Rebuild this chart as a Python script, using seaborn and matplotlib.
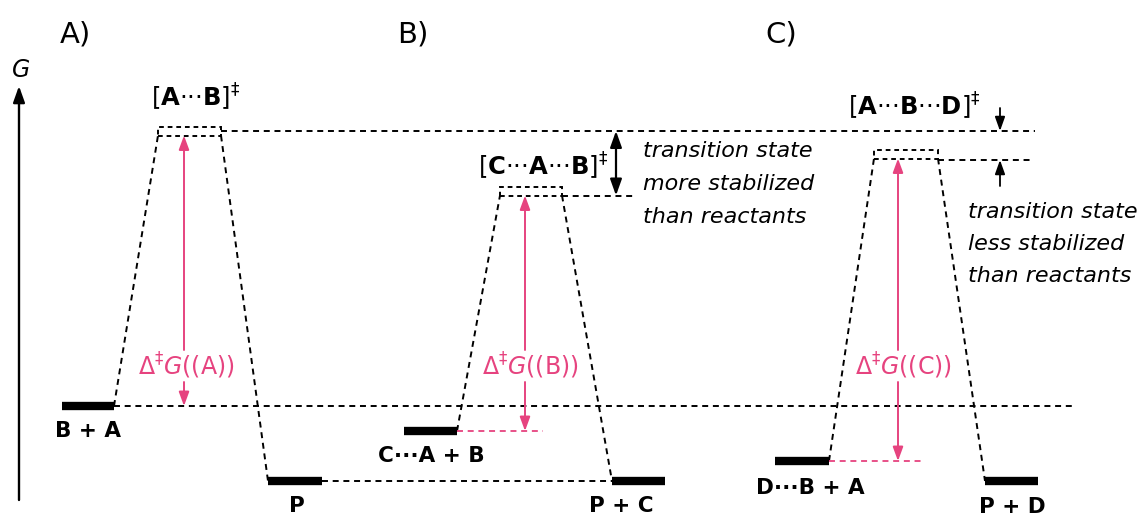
import matplotlib
matplotlib.use("Agg")
import matplotlib.pyplot as plt
from matplotlib.patches import Rectangle
import seaborn as sns
import pandas as pd

sns.set_theme(style="white")
plt.rcParams["font.family"] = ["DejaVu Sans"]
plt.rcParams["mathtext.fontset"] = "dejavusans"
plt.rcParams["lines.scale_dashes"] = False
plt.rcParams["text.color"] = "black"

# ---------------- data ----------------
panel_labels = ["A)", "B)", "C)"]
reactant_labels = ["B + A", "C···A + B", "D···B + A"]
ts_labels = [r"[$\mathbf{A}$···$\mathbf{B}$]$^{\ddagger}$",
             r"[$\mathbf{C}$···$\mathbf{A}$···$\mathbf{B}$]$^{\ddagger}$",
             r"[$\mathbf{A}$···$\mathbf{B}$···$\mathbf{D}$]$^{\ddagger}$"]
product_labels = ["P", "P + C", "P + D"]
barrier_labels = [r"$\Delta^{\ddagger}\mathit{G}$((A))",
                  r"$\Delta^{\ddagger}\mathit{G}$((B))",
                  r"$\Delta^{\ddagger}\mathit{G}$((C))"]
G_reactant = [75, 50, 20]
G_ts = [350, 290, 327]
G_product = [0, 0, 0]
note_B = ["transition state", "more stabilized", "than reactants"]
note_C = ["transition state", "less stabilized", "than reactants"]

# ---------------- layout ----------------
react_x = [(62, 114), (404, 457), (775, 829)]
ts_x = [(158, 221), (500, 562), (874, 938)]
prod_x = [(268, 322), (612, 665), (985, 1038)]
arrow_x = [184, 525, 898]
label_cx = [186, 530, 903]
panel_x = [60, 397, 765]
box_h = 4.5
PINK = "#E6437F"
DASH = (0, (4.3, 3.4))

fig = plt.figure(figsize=(11.45, 5.16), dpi=100)
ax = fig.add_axes([0, 0, 1, 1])
ax.set_xlim(0, 1145)
ax.set_ylim(481 - 516, 481)
ax.axis("off")

# thick energy-level bars via seaborn
rows = []
for i in range(3):
    for xx in react_x[i]:
        rows.append(dict(x=xx, G=G_reactant[i], seg=f"r{i}"))
    for xx in prod_x[i]:
        rows.append(dict(x=xx, G=G_product[i], seg=f"p{i}"))
bars = pd.DataFrame(rows)
sns.lineplot(data=bars, x="x", y="G", units="seg", estimator=None, sort=False,
             color="black", lw=6, solid_capstyle="butt", ax=ax, legend=False)

# connectors and TS boxes
for i in range(3):
    gt = G_ts[i]
    ax.plot([react_x[i][1], ts_x[i][0]], [G_reactant[i], gt - box_h],
            color="black", lw=1.4, ls=DASH)
    ax.plot([ts_x[i][1], prod_x[i][0]], [gt - box_h, G_product[i]],
            color="black", lw=1.4, ls=DASH)
    ax.add_patch(Rectangle((ts_x[i][0], gt - box_h), ts_x[i][1] - ts_x[i][0], 2 * box_h,
                           fill=False, ec="black", lw=1.4, ls=(0, (3.4, 2.8))))

# reference dashed lines
ax.plot([ts_x[0][1], 1035], [G_ts[0], G_ts[0]], color="black", lw=1.4, ls=DASH)
ax.plot([react_x[0][1], 1072], [G_reactant[0], G_reactant[0]], color="black", lw=1.4, ls=DASH)
ax.plot([prod_x[0][1], prod_x[1][0]], [G_product[0], G_product[0]], color="black", lw=1.4, ls=DASH)
ax.plot([ts_x[1][1], 633], [G_ts[1] - box_h, G_ts[1] - box_h], color="black", lw=1.4, ls=DASH)
ax.plot([ts_x[2][1], 1030], [G_ts[2] - box_h - 1.5, G_ts[2] - box_h - 1.5], color="black", lw=1.4, ls=DASH)

# pink reactant reference lines
ax.plot([react_x[1][1], 543], [G_reactant[1]] * 2, color=PINK, lw=1.3, ls=DASH)
ax.plot([react_x[2][1], 925], [G_reactant[2]] * 2, color=PINK, lw=1.3, ls=DASH)

# pink barrier arrows
ahead = "-|>,head_length=0.6,head_width=0.22"
for i in range(3):
    top = G_ts[i] - box_h
    ax.annotate("", xy=(arrow_x[i], top), xytext=(arrow_x[i], 131),
                arrowprops=dict(arrowstyle=ahead, color=PINK, lw=1.4,
                                mutation_scale=14, shrinkA=0, shrinkB=0))
    ax.annotate("", xy=(arrow_x[i], G_reactant[i]), xytext=(arrow_x[i], 99),
                arrowprops=dict(arrowstyle=ahead, color=PINK, lw=1.4,
                                mutation_scale=14, shrinkA=0, shrinkB=0))
    ax.text(label_cx[i], 481 - 375, barrier_labels[i], color=PINK, fontsize=17,
            ha="center", va="baseline")

# black stabilisation arrows
bhead = "<|-|>,head_length=0.7,head_width=0.25"
ax.annotate("", xy=(616, G_ts[0]), xytext=(616, G_ts[1] - box_h),
            arrowprops=dict(arrowstyle=bhead, color="black", lw=1.6,
                            mutation_scale=14, shrinkA=0, shrinkB=0))
shead = "-|>,head_length=0.7,head_width=0.25"
ax.annotate("", xy=(1000, G_ts[0]), xytext=(1000, 373),
            arrowprops=dict(arrowstyle=shead, color="black", lw=1.3,
                            mutation_scale=12, shrinkA=0, shrinkB=0))
ax.annotate("", xy=(1000, G_ts[2] - box_h - 1.5), xytext=(1000, 295),
            arrowprops=dict(arrowstyle=shead, color="black", lw=1.3,
                            mutation_scale=12, shrinkA=0, shrinkB=0))

# G axis
ax.annotate("", xy=(19, 481 - 86), xytext=(19, 481 - 500),
            arrowprops=dict(arrowstyle="-|>,head_length=0.7,head_width=0.25",
                            color="black", lw=1.7, mutation_scale=14,
                            shrinkA=0, shrinkB=0))
ax.text(21, 481 - 77, "G", fontsize=17, style="italic", ha="center", va="baseline")

# text labels
react_base = [437, 462, 494]
prod_base = [512, 512, 513]
react_cx = [88, 431, 810]
prod_cx = [297, 621, 1012]
ts_base = [107, 176, 116]
ts_cx = [196, 543, 914]
for i in range(3):
    ax.text(panel_x[i], 481 - 43, panel_labels[i], fontsize=21, ha="left", va="baseline")
    ax.text(react_cx[i], 481 - react_base[i], reactant_labels[i], fontsize=15.5,
            fontweight="bold", ha="center", va="baseline")
    ax.text(prod_cx[i], 481 - prod_base[i], product_labels[i], fontsize=15.5,
            fontweight="bold", ha="center", va="baseline")
    ax.text(ts_cx[i], 481 - ts_base[i], ts_labels[i], fontsize=17.5,
            ha="center", va="baseline")

for j, line in enumerate(note_B):
    ax.text(643, 481 - (157 + 33 * j), line, fontsize=16, style="italic",
            ha="left", va="baseline")
for j, line in enumerate(note_C):
    ax.text(968, 481 - (218 + 32 * j), line, fontsize=16, style="italic",
            ha="left", va="baseline")

fig.savefig("out.png", dpi=100)
